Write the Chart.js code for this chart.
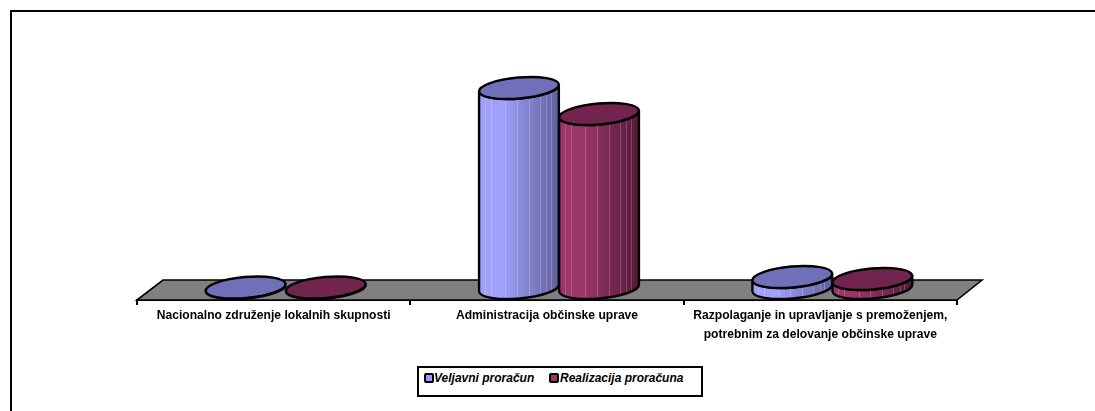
<!DOCTYPE html>
<html>
<head>
<meta charset="utf-8">
<title>Proračun</title>
<script src="https://cdn.jsdelivr.net/npm/chart.js@4"></script>
<style>
  html, body { margin: 0; padding: 0; background: #fff; overflow: hidden; }
  #wrap { position: relative; width: 1095px; height: 411px; overflow: hidden; }
  #frame { position: absolute; left: 10px; top: 10px; width: 1200px; height: 440px; border: 2px solid #000; }
  #legend { position: absolute; left: 417px; top: 366px; width: 282px; height: 27px; border: 2px solid #000; background: #fff;
            font: italic bold 12px "Liberation Sans", Arial, sans-serif; color: #000; }
  #legend span { position: absolute; top: 3px; white-space: nowrap; }
  #legend i { position: absolute; top: 5px; width: 6px; height: 6px; border: 2px solid #000; border-radius: 2px; }
  canvas { position: absolute; left: 0; top: 0; }
</style>
</head>
<body>
<div id="wrap">
  <div id="frame"></div>
  <canvas id="chart" width="1095" height="411"></canvas>
  <div id="legend"></div>
</div>
<script>
// ---------- Data ----------
const categories = [
  'Nacionalno združenje lokalnih skupnosti',
  'Administracija občinske uprave',
  ['Razpolaganje in upravljanje s premoženjem,', 'potrebnim za delovanje občinske uprave']
];
const seriesNames = ['Veljavni proračun', 'Realizacija proračuna'];
const veljavni = [0.5, 200, 11];
const realizacija = [0.5, 174, 9];

// ---------- Styles ----------
const looks = [
  { light: '#a0a0fa', dark: '#5f5f9c', top: '#7070b8', swatch: '#9999ff' },
  { light: '#9c3569', dark: '#54193a', top: '#71244e', swatch: '#993366' }
];
const stripes = [.07, .15, .33, .47, .62, .76, .84, .9];
const depthX = 12, depthY = 12, radiusY = 10.5, tilt = -5 * Math.PI / 180;

// floor of the 3D chart, sits behind the columns
const floorPlugin = {
  id: 'floor',
  beforeDatasetsDraw (chart) {
    const { ctx, chartArea: a } = chart;
    ctx.save();
    ctx.beginPath();
    ctx.moveTo(a.left, a.bottom);
    ctx.lineTo(a.left + 26, a.bottom - 20);
    ctx.lineTo(a.right + 25, a.bottom - 20);
    ctx.lineTo(a.right, a.bottom);
    ctx.closePath();
    ctx.fillStyle = '#808080';
    ctx.fill();
    ctx.lineWidth = 1.6;
    ctx.strokeStyle = '#000';
    ctx.stroke();
    ctx.restore();
  }
};

// Chart.js has no cylinder bars, so paint them over the bar elements
const cylinderPlugin = {
  id: 'cylinders',
  afterDatasetsDraw (chart) {
    const { ctx } = chart;
    // draw left to right so each column overlaps its neighbour like the original
    const items = [];
    chart.data.datasets.forEach((ds, i) => {
      chart.getDatasetMeta(i).data.forEach(bar => items.push({ bar, look: looks[i] }));
    });
    items.sort((p, q) => p.bar.x - q.bar.x);
    items.forEach(({ bar, look }) => {
      const cx = bar.x + depthX, rx = bar.width / 2;
      const yTop = bar.y - depthY, yBase = bar.base - depthY;
      const grad = ctx.createLinearGradient(cx - rx, 0, cx + rx, 0);
      grad.addColorStop(0, look.light);
      grad.addColorStop(.3, look.light);
      grad.addColorStop(1, look.dark);

      ctx.save();
      ctx.lineWidth = 2.4;
      ctx.strokeStyle = '#000';

      // body
      const body = new Path2D();
      body.ellipse(cx, yBase, rx, radiusY, tilt, 0, Math.PI);
      body.ellipse(cx, yTop, rx, radiusY, tilt, Math.PI, 0, true);
      body.closePath();
      ctx.fillStyle = grad;
      ctx.fill(body);

      // thin highlights on the body
      ctx.save();
      ctx.clip(body);
      ctx.lineWidth = 1;
      ctx.strokeStyle = 'rgba(255,255,255,.2)';
      stripes.forEach(s => {
        const sx = Math.round(cx - rx + s * 2 * rx) + .5;
        ctx.beginPath();
        ctx.moveTo(sx, yTop - radiusY - 5);
        ctx.lineTo(sx, yBase + radiusY + 5);
        ctx.stroke();
      });
      ctx.restore();
      ctx.stroke(body);

      // lid
      ctx.beginPath();
      ctx.ellipse(cx, yTop, rx, radiusY, tilt, 0, Math.PI * 2);
      ctx.fillStyle = look.top;
      ctx.fill();
      ctx.stroke();
      ctx.restore();
    });
  }
};

new Chart(document.getElementById('chart'), {
  type: 'bar',
  data: {
    labels: categories,
    datasets: [
      { label: seriesNames[0], data: veljavni, backgroundColor: 'transparent' },
      { label: seriesNames[1], data: realizacija, backgroundColor: 'transparent' }
    ]
  },
  options: {
    responsive: false,
    animation: false,
    layout: { padding: { left: 137, right: 138, top: 50, bottom: 0 } },
    categoryPercentage: .586,
    barPercentage: 1,
    scales: {
      x: {
        afterFit (axis) { axis.height = 111; },
        grid: { drawOnChartArea: false, drawTicks: true, tickLength: 5, color: '#000', lineWidth: 2 },
        border: { display: true, color: '#000', width: 2 },
        ticks: {
          color: '#000', maxRotation: 0, autoSkip: false, padding: 1,
          font: { family: '"Liberation Sans", Arial, sans-serif', size: 12.1, weight: 'bold', lineHeight: 1.57 }
        }
      },
      y: { display: false, min: 0, max: 250 }
    },
    plugins: { legend: { display: false }, tooltip: { enabled: false } }
  },
  plugins: [floorPlugin, cylinderPlugin]
});

// ---------- Legend ----------
const legendEl = document.getElementById('legend');
const legendX = [{ box: 5, text: 15 }, { box: 130, text: 141 }];
seriesNames.forEach((name, i) => {
  const box = document.createElement('i');
  box.style.left = legendX[i].box + 'px';
  box.style.background = looks[i].swatch;
  const txt = document.createElement('span');
  txt.style.left = legendX[i].text + 'px';
  txt.textContent = name;
  legendEl.append(box, txt);
});
</script>
</body>
</html>
